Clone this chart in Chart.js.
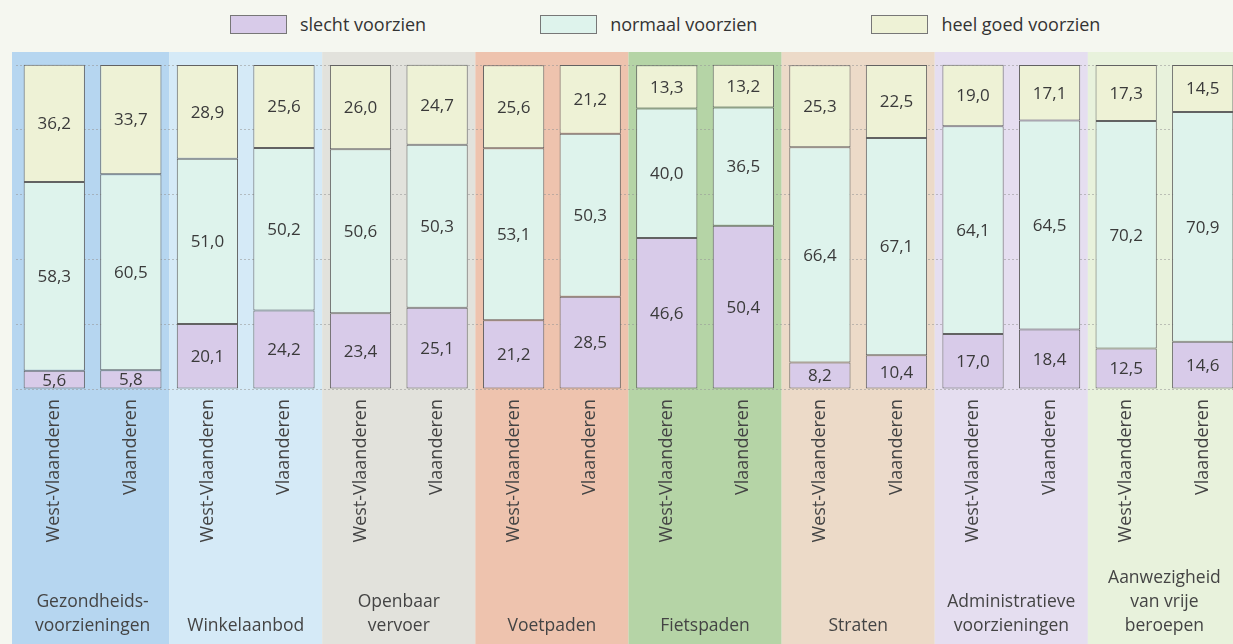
<!DOCTYPE html>
<html>
<head>
<meta charset="utf-8">
<script src="https://cdn.jsdelivr.net/npm/chart.js@4/dist/chart.umd.min.js"></script>
<style>
    html, body { margin: 0; padding: 0; background: #f5f7f0; overflow: hidden; }
    #wrap { position: relative; width: 1233px; height: 644px; overflow: hidden; }
    #chart { position: absolute; left: 0; top: 0; }
    #legend { position: absolute; top: 12px; left: 230px; display: flex; gap: 114px;
              font-family: "Open Sans", sans-serif; font-size: 18px; color: #333; }
    .item { display: flex; align-items: center; }
    .box { width: 55px; height: 17px; border: 1px solid #777; margin-right: 13px; }
</style>
</head>
<body>
<div id="wrap">
    <div id="legend"></div>
    <canvas id="chart" width="1245" height="644"></canvas>
</div>
<script>
// ── Data ─────────────────────────────────────────────────
const groups = [
    ["Gezondheids-", "voorzieningen"],
    ["Winkelaanbod"],
    ["Openbaar", "vervoer"],
    ["Voetpaden"],
    ["Fietspaden"],
    ["Straten"],
    ["Administratieve", "voorzieningen"],
    ["Aanwezigheid", "van vrije", "beroepen"]
];
const regions = ["West-Vlaanderen", "Vlaanderen"];
const seriesNames = ["slecht voorzien", "normaal voorzien", "heel goed voorzien"];

const slecht  = [5.6, 5.8, 20.1, 24.2, 23.4, 25.1, 21.2, 28.5, 46.6, 50.4, 8.2, 10.4, 17.0, 18.4, 12.5, 14.6];
const normaal = [58.3, 60.5, 51.0, 50.2, 50.6, 50.3, 53.1, 50.3, 40.0, 36.5, 66.4, 67.1, 64.1, 64.5, 70.2, 70.9];
const goed    = [36.2, 33.7, 28.9, 25.6, 26.0, 24.7, 25.6, 21.2, 13.3, 13.2, 25.3, 22.5, 19.0, 17.1, 17.3, 14.5];

const yTicks = [0, 20, 40, 60, 80, 100];

const seriesColors = ["#d8cbe9", "#def3ec", "#eef2d6"];
const bandColors = ["#b6d6f0", "#d5eaf7", "#e2e2dc", "#eec3ae", "#b5d4a6", "#ecdac8", "#e5def0", "#e8f2dc"];

const categories = [];
groups.forEach(() => regions.forEach((r) => categories.push(r)));

// ── Legend (HTML) ────────────────────────────────────────
const legendEl = document.getElementById("legend");
seriesNames.forEach((name, i) => {
    const item = document.createElement("div");
    item.className = "item";
    item.innerHTML = `<span class="box" style="background:${seriesColors[i]}"></span><span>${name}</span>`;
    legendEl.appendChild(item);
});

const FONT = "'Open Sans', sans-serif";

// background bands + group names
const bandsPlugin = {
    id: "bands",
    beforeDraw(chart) {
        const { ctx, chartArea, scales: { x } } = chart;
        const step = x.getPixelForValue(1) - x.getPixelForValue(0);
        ctx.save();
        groups.forEach((g, i) => {
            let left = x.getPixelForValue(i * 2) - step / 2;
            const right = x.getPixelForValue(i * 2 + 1) + step / 2;
            if (i === 0) left -= 4;
            ctx.fillStyle = bandColors[i];
            ctx.fillRect(left, chartArea.top - 13, right - left, chart.height - chartArea.top + 13);
        });
        ctx.restore();
    },
    afterDraw(chart) {
        const { ctx, scales: { x } } = chart;
        ctx.save();
        ctx.font = `17.5px ${FONT}`;
        ctx.fillStyle = "#444";
        ctx.textAlign = "center";
        ctx.textBaseline = "middle";
        groups.forEach((lines, i) => {
            const cx = (x.getPixelForValue(i * 2) + x.getPixelForValue(i * 2 + 1)) / 2;
            lines.forEach((line, j) => {
                const y = 626 - (lines.length - 1 - j) * 24;
                ctx.fillText(line, cx, y);
            });
        });
        ctx.restore();
    }
};

// values inside the segments
const valuesPlugin = {
    id: "values",
    afterDatasetsDraw(chart) {
        const { ctx } = chart;
        ctx.save();
        ctx.font = `17px ${FONT}`;
        ctx.fillStyle = "#3a3a3a";
        ctx.textAlign = "center";
        ctx.textBaseline = "middle";
        chart.data.datasets.forEach((ds, di) => {
            chart.getDatasetMeta(di).data.forEach((bar, i) => {
                const v = ds.data[i];
                const y = (bar.y + bar.base) / 2;
                ctx.fillText(v.toFixed(1).replace(".", ","), bar.x, y + 1);
            });
        });
        ctx.restore();
    }
};

new Chart(document.getElementById("chart"), {
    type: "bar",
    data: {
        labels: categories,
        datasets: seriesNames.map((name, i) => ({
            label: name,
            data: [slecht, normaal, goed][i],
            backgroundColor: seriesColors[i],
            borderColor: "#626262",
            borderWidth: 1,
            borderSkipped: false,
            barPercentage: 0.8,
            categoryPercentage: 1,
            clip: false
        }))
    },
    options: {
        responsive: false,
        animation: false,
        layout: { padding: { top: 65, left: 16, right: 4, bottom: 0 } },
        plugins: {
            legend: { display: false },
            tooltip: { enabled: false }
        },
        scales: {
            x: {
                stacked: true,
                grid: { display: false },
                border: { display: false },
                afterFit(scale) { scale.height = 255; },
                ticks: {
                    minRotation: 90,
                    maxRotation: 90,
                    padding: 2,
                    color: "#444",
                    font: { family: FONT, size: 18 }
                }
            },
            y: {
                stacked: true,
                min: 0,
                max: 100,
                afterFit(scale) { scale.width = 0; },
                afterBuildTicks(scale) { scale.ticks = yTicks.map((v) => ({ value: v })); },
                ticks: { display: false },
                border: { display: false, dash: [2, 2] },
                grid: {
                    color: "rgba(150,150,150,0.55)",
                    drawTicks: false
                }
            }
        }
    },
    plugins: [bandsPlugin, valuesPlugin]
});
</script>
</body>
</html>
